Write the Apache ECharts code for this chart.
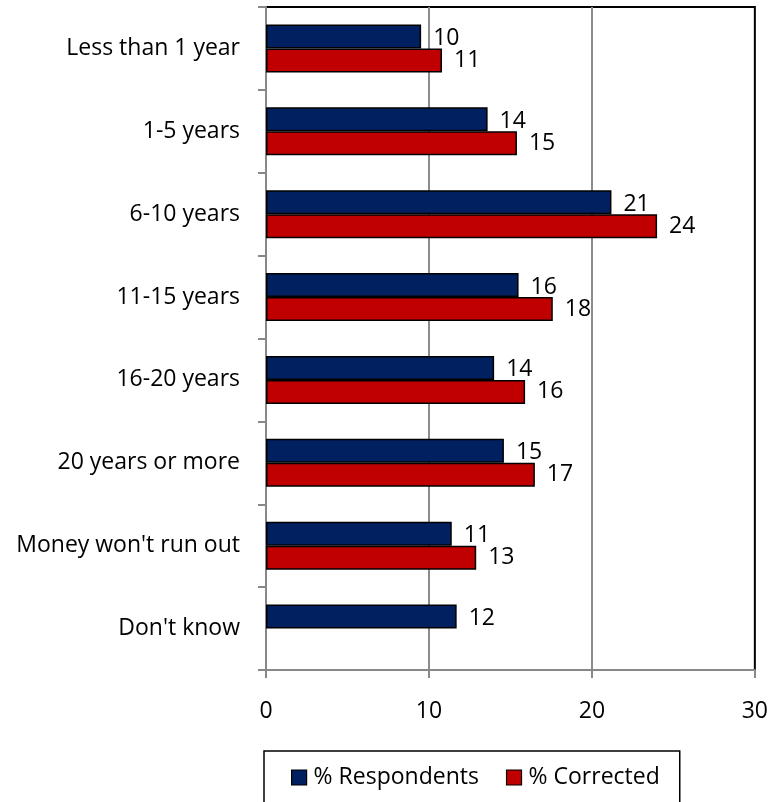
<!DOCTYPE html>
<html>
<head>
<meta charset="utf-8">
<script src="https://cdn.jsdelivr.net/npm/echarts@6/dist/echarts.min.js"></script>
<style>
html,body{margin:0;padding:0;background:#fff;}
#chart{width:771px;height:802px;}
</style>
</head>
<body>
<div id="chart"></div>
<script>
const categories = ["Less than 1 year", "1-5 years", "6-10 years", "11-15 years", "16-20 years", "20 years or more", "Money won't run out", "Don't know"];
const respondents = [9.52, 13.6, 21.2, 15.5, 14.0, 14.6, 11.4, 11.7];
const corrected = [10.8, 15.4, 24.0, 17.6, 15.9, 16.5, 12.9, null];
const xTicks = [0, 10, 20, 30];
const seriesNames = ["% Respondents", "% Corrected"];

const FONT = "'Open Sans', sans-serif";
const FS = 23;
const chart = echarts.init(document.getElementById('chart'), null, {renderer: 'canvas'});

const labelCfg = (dy) => ({
  show: true,
  position: 'right',
  distance: 12,
  offset: [0, dy],
  color: '#000',
  fontFamily: FONT,
  fontSize: FS,
  formatter: p => (p.value == null ? '' : String(Math.round(p.value)))
});

chart.setOption({
  animation: false,
  backgroundColor: '#fff',
  grid: {
    left: 266, right: 16, top: 7, bottom: 132,
    show: true, borderColor: '#000', borderWidth: 2, backgroundColor: 'transparent'
  },
  legend: {
    data: seriesNames,
    left: 264, top: 751,
    orient: 'horizontal',
    icon: 'rect',
    padding: [15, 20, 60, 27],
    borderColor: '#000', borderWidth: 1.5,
    itemWidth: 15, itemHeight: 15, itemGap: 27,
    itemStyle: {borderColor: '#000', borderWidth: 1.2},
    textStyle: {fontFamily: FONT, fontSize: FS, color: '#000', padding: [0, 0, 0, 2]}
  },
  xAxis: {
    type: 'value',
    min: 0, max: 30, interval: 10,
    axisLine: {show: true, lineStyle: {color: '#888', width: 2}},
    axisTick: {show: true, length: 8, lineStyle: {color: '#888', width: 2}},
    axisLabel: {margin: 30, color: '#000', fontFamily: FONT, fontSize: FS,
      formatter: v => xTicks.includes(v) ? String(v) : ''},
    splitLine: {show: true, showMinLine: false, showMaxLine: false, lineStyle: {color: '#8c8c8c', width: 2}}
  },
  yAxis: {
    type: 'category',
    data: categories,
    inverse: true,
    axisLine: {show: true, lineStyle: {color: '#888', width: 2}},
    axisTick: {show: true, length: 8, lineStyle: {color: '#888', width: 2}},
    axisLabel: {margin: 26, color: '#000', fontFamily: FONT, fontSize: FS},
    splitLine: {show: false}
  },
  series: [
    {
      name: seriesNames[0], type: 'bar', data: respondents,
      barWidth: 24, barGap: '0%',
      itemStyle: {color: '#002060', borderColor: '#000', borderWidth: 1.5},
      label: labelCfg(2)
    },
    {
      name: seriesNames[1], type: 'bar', data: corrected,
      barWidth: 24, barGap: '0%',
      itemStyle: {color: '#C00000', borderColor: '#000', borderWidth: 1.5},
      label: labelCfg(0)
    }
  ]
});
</script>
</body>
</html>
